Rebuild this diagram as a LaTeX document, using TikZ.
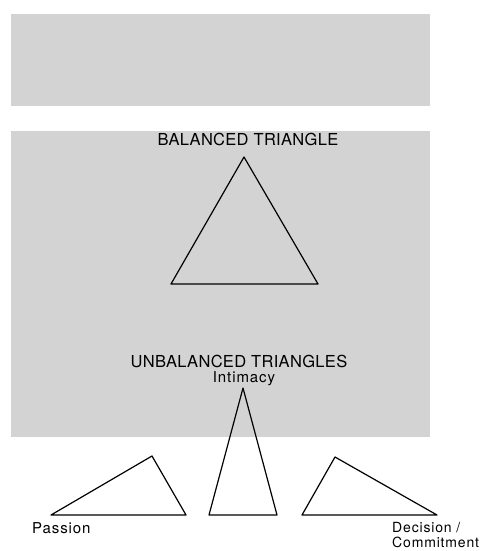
\documentclass[tikz,border=0pt]{standalone}
\usepackage{fontspec}
\setmainfont{TeX Gyre Heros}
\newfontfamily\headfont[LetterSpace=2]{TeX Gyre Heros}
\newfontfamily\labelfont[LetterSpace=6]{TeX Gyre Heros}
\usetikzlibrary{positioning}
\definecolor{PanelGray}{HTML}{D3D3D3}

\begin{document}
\begin{tikzpicture}[x=1pt, y=-1pt,
    panel/.style={fill=PanelGray},
    tri/.style={line width=1.2pt, line join=round},
    heading/.style={font=\headfont\fontsize{16.5}{18}\selectfont, inner sep=0pt},
    corner/.style={font=\labelfont\fontsize{15}{16.5}\selectfont, inner sep=0pt}]
    \useasboundingbox (0,0) rectangle (488,551);

    % Gray panels
    \fill[panel] (11,14) rectangle (430,106);
    \fill[panel] (11,131) rectangle (430,437);

    % Balanced triangle
    \node[heading] (balanced) at (248,139) {BALANCED TRIANGLE};
    \coordinate (bt) at (244,157);
    \coordinate (bl) at (171,284);
    \coordinate (br) at (318,284);
    \draw[tri] (bt) -- (bl) -- (br) -- cycle;

    % Unbalanced triangles
    \node[heading] (unbalanced) at (239,361) {UNBALANCED TRIANGLES};
    \node[corner] (intimacy) at (244,378.5) {Intimacy};

    % Passion-heavy
    \draw[tri] (51,515) -- (152,456) -- (186,515) -- cycle;
    % Intimacy-heavy
    \draw[tri] (243,388) -- (209,515) -- (277,515) -- cycle;
    % Commitment-heavy
    \draw[tri] (302,515) -- (335,457) -- (437,515) -- cycle;

    % Corner labels
    \node[corner, anchor=west] (passion) at (32,528) {Passion};
    \node[corner, anchor=west, align=left, font=\labelfont\fontsize{14}{15.5}\selectfont] (decision) at (392,535) {Decision /\\Commitment};

\end{tikzpicture}
\end{document}
